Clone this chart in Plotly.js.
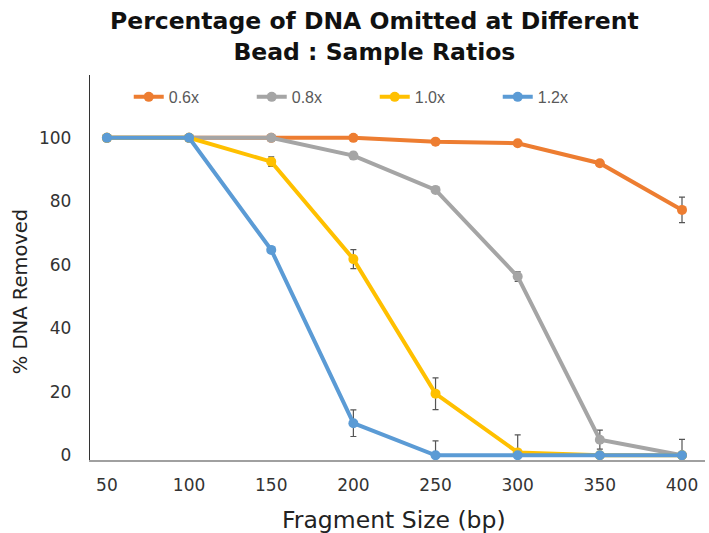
<!DOCTYPE html>
<html>
<head>
<meta charset="utf-8">
<script src="https://cdn.plot.ly/plotly-3.0.1.min.js"></script>
<style>html,body{margin:0;padding:0;background:#fff;}#chart{width:709px;height:533px;}</style>
</head>
<body>
<div id="chart"></div>
<script>
const fragmentSizes = [50, 100, 150, 200, 250, 300, 350, 400];
const seriesNames = ['0.6x', '0.8x', '1.0x', '1.2x'];
const ratio06 = [100, 100, 100, 100, 98.8, 98.3, 92, 77.3];
const ratio06Err = [0, 0, 0, 0.5, 0.5, 0.5, 1, 4];
const ratio08 = [100, 100, 100, 94.4, 83.6, 56.3, 4.9, 0];
const ratio08Err = [0, 0, 0, 1, 0.8, 1.5, 3, 5];
const ratio10 = [100, 100, 92.5, 61.8, 19.4, 0.9, 0, 0];
const ratio10Err = [0, 0, 1.5, 3, 5, 5.5, 0, 0];
const ratio12 = [100, 100, 64.7, 10.1, 0, 0, 0, 0];
const ratio12Err = [0, 0, 1, 4.2, 4.5, 0, 0, 0];
const colors = ['#ED7D31', '#A5A5A5', '#FFC000', '#5B9BD5'];
const chartTitle = 'Percentage of DNA Omitted at Different<br>Bead : Sample Ratios';
const xTitle = 'Fragment Size (bp)';
const yTitle = '% DNA Removed';

const values = [ratio06, ratio08, ratio10, ratio12];
const errs = [ratio06Err, ratio08Err, ratio10Err, ratio12Err];

const traces = values.map((v, i) => ({
  x: fragmentSizes,
  y: v,
  name: seriesNames[i],
  type: 'scatter',
  mode: 'lines+markers',
  line: {color: colors[i], width: 4},
  marker: {color: colors[i], size: 10},
  error_y: {type: 'data', array: errs[i], visible: true, color: '#555555', thickness: 1.2, width: 3}
}));

const layout = {
  width: 709, height: 533,
  margin: {l: 90, r: 4, t: 75, b: 73},
  paper_bgcolor: '#ffffff', plot_bgcolor: '#ffffff',
  annotations: [{
    text: chartTitle,
    xref: 'paper', yref: 'paper', x: 0.462, y: 1.101, xanchor: 'center', yanchor: 'middle',
    showarrow: false,
    font: {family: 'DejaVu Sans, sans-serif', size: 23.5, color: '#111111', weight: 700}
  }, {
    text: xTitle,
    xref: 'paper', yref: 'paper', x: 0.494, y: -0.156, xanchor: 'center', yanchor: 'middle',
    showarrow: false,
    font: {family: 'DejaVu Sans, sans-serif', size: 23.5, color: '#222222'}
  }, {
    text: yTitle,
    xref: 'paper', yref: 'paper', x: -0.1138, y: 0.436, xanchor: 'center', yanchor: 'middle',
    textangle: -90, showarrow: false,
    font: {family: 'DejaVu Sans, sans-serif', size: 19.5, color: '#222222'}
  }],
  showlegend: true,
  legend: {
    orientation: 'h', x: 0.063, xanchor: 'left', y: 0.943, yanchor: 'middle',
    font: {family: 'Liberation Sans, Arial, sans-serif', size: 16, color: '#595959'},
    entrywidth: 78, entrywidthmode: 'pixels', itemwidth: 30,
    bgcolor: 'rgba(0,0,0,0)'
  },
  xaxis: {
    range: [39.7, 414],
    tickvals: fragmentSizes,
    ticktext: fragmentSizes.map(String),
    showgrid: false, zeroline: false,
    showline: true, linecolor: '#a0a0a0', linewidth: 1.5,
    ticks: '', ticklabelstandoff: 9,
    tickfont: {family: 'DejaVu Sans, sans-serif', size: 17, color: '#333333'}
  },
  yaxis: {
    range: [-1.5, 119.8],
    tickvals: [0, 20, 40, 60, 80, 100],
    showgrid: false, zeroline: false,
    showline: true, linecolor: '#333333', linewidth: 1.2,
    ticks: '', ticklabelstandoff: 14,
    tickfont: {family: 'DejaVu Sans, sans-serif', size: 17, color: '#333333'}
  }
};

Plotly.newPlot('chart', traces, layout, {displayModeBar: false, staticPlot: true});
</script>
</body>
</html>
